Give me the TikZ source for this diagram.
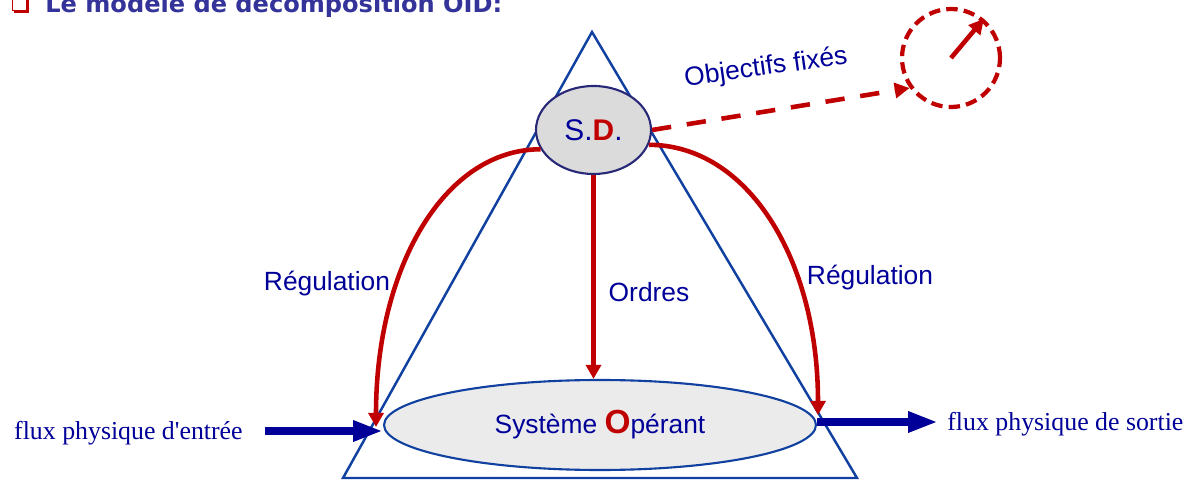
\documentclass[tikz,border=0pt]{standalone}
\usepackage{fontspec}
\setmainfont{Liberation Serif}
\setsansfont{Liberation Sans}
\newfontfamily\titlefont{DejaVu Sans}
\newfontfamily\fluxfont[Ligatures=TeXOff]{Liberation Serif}
\usetikzlibrary{arrows.meta,shapes.geometric}
\definecolor{navytxt}{RGB}{0,0,153}
\definecolor{oidred}{RGB}{192,0,0}
\definecolor{triblue}{RGB}{16,64,160}
\definecolor{sdborder}{RGB}{40,40,120}
\definecolor{titleblue}{RGB}{51,51,153}
\begin{document}
\begin{tikzpicture}[
    lbl/.style={font=\sffamily\fontsize{15}{18}\selectfont, text=navytxt, inner sep=0pt},
    fluxlbl/.style={font=\fluxfont\fontsize{14.7}{18}\selectfont, text=navytxt, inner sep=0pt},
    regul/.style={draw=oidred, line width=2.6pt, -{Triangle[length=8pt,width=8.5pt]}},
    flux/.style={draw=navytxt, line width=5pt, -{Triangle[length=17pt,width=11pt]}}
]
\useasboundingbox (0,0) rectangle (23.96,-9.62);

% Title
\draw[oidred, line width=0.5pt] (0.25,0.1) rectangle (0.52,-0.21);
\fill[oidred] (0.52,0.05) rectangle (0.58,-0.26);
\fill[oidred] (0.29,-0.21) rectangle (0.58,-0.26);
\node[anchor=base west, font=\titlefont\bfseries\fontsize{13.7}{16}\selectfont, text=titleblue, inner sep=0pt] (title) at (0.90,-0.26) {Le modèle de décomposition OID:};

% Triangle
\draw[triblue, line width=1.4pt, line join=miter] (11.84,-0.64) -- (6.86,-9.56) -- (17.14,-9.56) -- cycle;

% Ellipses
\node[ellipse, draw=sdborder, fill=black!14, line width=1.2pt, minimum width=2.3cm, minimum height=1.76cm, inner sep=0pt, font=\sffamily\fontsize{17}{20}\selectfont] (sd) at (11.87,-2.60)
    {\textcolor{navytxt}{S.}\textcolor{oidred}{\bfseries D}\textcolor{navytxt}{.}};
\node[ellipse, draw=triblue, fill=black!8, line width=1.2pt, minimum width=8.64cm, minimum height=1.8cm, inner sep=0pt, font=\sffamily\fontsize{15}{18}\selectfont, text=navytxt] (so) at (12.00,-8.50)
    {Système {\fontsize{19}{20}\selectfont\bfseries\color{oidred}O}pérant};

% Objectives
\node[circle, draw=oidred, line width=2.4pt, dash pattern=on 6.5pt off 3.5pt, minimum size=1.96cm, inner sep=0pt] (goal) at (19.02,-1.16) {};
\draw[oidred, line width=2.6pt, -{Triangle[length=8.5pt,width=8.5pt]}] (goal.center) -- (goal.50);
\draw[oidred, line width=2.6pt, dash pattern=on 11pt off 9pt, -{Triangle[length=8.5pt,width=8.5pt]}] (sd.east) -- (goal.216);
\node[lbl, rotate=8] (obj) at (15.32,-1.36) {Objectifs fixés};

% Orders and regulation
\draw[regul] (sd.south) -- (sd.south |- so.north);
\node[lbl] (ordres) at (12.98,-5.84) {Ordres};
\coordinate (regLtip) at (7.52,-8.54);
\coordinate (regRtip) at (16.36,-8.30);
\draw[regul] (sd.200) .. controls +(-1.91,0) and +(0,3.22) .. (regLtip);
\draw[regul] (sd.-15) .. controls +(1.97,0) and +(0,3.13) .. (regRtip);
\node[lbl] (regL) at (6.54,-5.68) {Régulation};
\node[lbl] (regR) at (17.40,-5.56) {Régulation};

% Physical flows
\coordinate (inL) at (5.30,-8.62);
\coordinate (inTip) at (7.66,-8.62);
\coordinate (outL) at (16.34,-8.44);
\coordinate (outTip) at (18.76,-8.44);
\draw[flux] (inL) -- (inTip);
\draw[flux] (outL) -- (outTip);
\node[fluxlbl, anchor=east] (fin) at (4.86,-8.66) {flux physique d'entrée};
\node[fluxlbl, anchor=west] (fout) at (18.94,-8.48) {flux physique de sortie};
\end{tikzpicture}
\end{document}
